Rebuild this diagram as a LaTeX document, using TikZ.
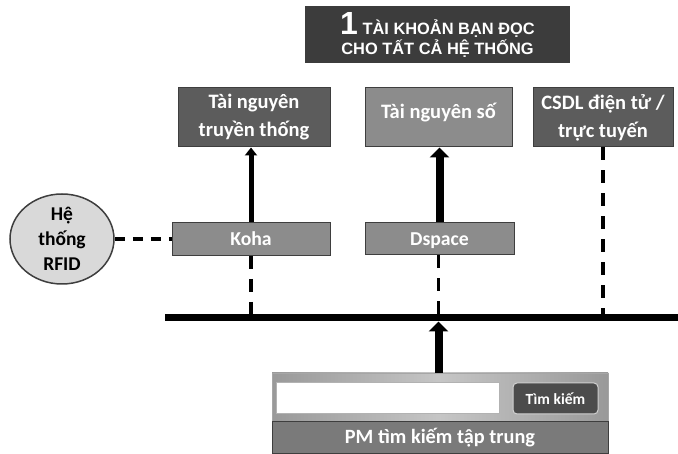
\documentclass[tikz,border=0pt]{standalone}
\usepackage{fontspec}
\setmainfont{Carlito}
\newfontfamily\titlefont{Liberation Sans}
\usetikzlibrary{arrows.meta,shapes.geometric}

\definecolor{titlegray}{HTML}{3C3C3C}
\definecolor{boxdark}{HTML}{5C5C5C}
\definecolor{boxlight}{HTML}{8C8C8C}
\definecolor{boxline}{HTML}{3E3E3E}
\definecolor{rfidgray}{HTML}{D9D9D9}
\definecolor{bargray}{HTML}{7A7A7A}
\definecolor{btngray}{HTML}{4C4C4C}

\begin{document}
\begin{tikzpicture}[x=1pt,y=-1pt,
  titlebox/.style={fill=titlegray, text=white, align=center, inner sep=0pt,
    font=\titlefont\bfseries\fontsize{16.4}{20}\selectfont},
  darkbox/.style={draw=boxline, fill=boxdark, line width=1pt, text=white, align=center,
    inner sep=0pt, font=\bfseries\fontsize{20.5}{28}\selectfont},
  lightbox/.style={darkbox, fill=boxlight},
  sysbox/.style={draw=boxline, fill=boxlight, line width=1pt, text=white, inner sep=0pt,
    text height=15pt, text depth=1pt, font=\bfseries\fontsize{19.7}{24}\selectfont},
  uparrow/.style={line width=5pt, -{Triangle[width=12pt,length=8pt]}},
  bigarrow/.style={line width=8pt, -{Triangle[width=19pt,length=10pt]}},
  dashlink/.style={line width=3.5pt, dash pattern=on 13pt off 10pt},
  rfidlink/.style={line width=4pt, dash pattern=on 10pt off 8pt}]
  \useasboundingbox (0,0) rectangle (678,454);

  \node[titlebox, minimum width=265pt, minimum height=57pt] (title) at (437.5,34.5)
    {{\fontsize{32}{32}\selectfont 1} TÀI KHOẢN BẠN ĐỌC\\CHO TẤT CẢ HỆ THỐNG};

  \node[darkbox, minimum width=152pt, minimum height=59pt] (tntt) at (254,117.5) {Tài nguyên\\truyền thống};
  \node[lightbox, minimum width=147pt, minimum height=59pt, text depth=14pt] (tns) at (438.5,117.5) {Tài nguyên số};
  \node[darkbox, minimum width=140pt, minimum height=59pt] (csdl) at (603,117.5) {CSDL điện tử /\\trực tuyến};

  \node[sysbox, minimum width=158pt, minimum height=33pt] (koha) at (251,239) {Koha};
  \node[sysbox, minimum width=149pt, minimum height=32pt] (dspace) at (439.5,239) {Dspace};
  \node[ellipse, draw=boxline, fill=rfidgray, line width=1.5pt, inner sep=0pt, minimum width=104pt,
    minimum height=90pt, align=center, font=\bfseries\fontsize{19.5}{25}\selectfont] (rfid) at (62,239) {Hệ\\thống\\RFID};

  \coordinate (busL) at (165,318);
  \coordinate (busR) at (678,318);

  \node[minimum width=336pt, minimum height=49pt, left color=gray!80, right color=gray!80,
    middle color=gray!45, draw=gray!70] (panel) at (440,397.5) {};
  \node[fill=white, draw=gray!60, line width=1pt, minimum width=223pt, minimum height=31pt] (input) at (387.5,398.5) {};
  \node[fill=btngray, draw=gray!35, line width=1pt, rounded corners=4pt, minimum width=85pt,
    minimum height=31pt, text=white, font=\bfseries\fontsize{15.5}{18}\selectfont] (btn) at (555.5,398.5) {Tìm kiếm};
  \node[fill=bargray, draw=boxline, line width=1pt, minimum width=336pt, minimum height=32pt,
    text=white, font=\bfseries\fontsize{20.3}{24}\selectfont] (bar) at (440,438) {PM tìm kiếm tập trung};

  \draw[line width=7pt] (busL) -- (busR);
  \draw[uparrow] (koha.north) -- (koha.north |- tntt.south);
  \draw[bigarrow] (dspace.north) -- (dspace.north |- tns.south);
  \draw[dashlink] (koha.south) -- (koha.south |- busL);
  \draw[dashlink] (dspace.south -| tns.south) -- (tns.south |- busL);
  \draw[dashlink] (csdl.south) -- (csdl.south |- busL);
  \draw[rfidlink] (rfid) -- (koha);
  \draw[bigarrow, shorten >=3.5pt] (panel.north -| tns.south) -- (tns.south |- busL);
\end{tikzpicture}
\end{document}
